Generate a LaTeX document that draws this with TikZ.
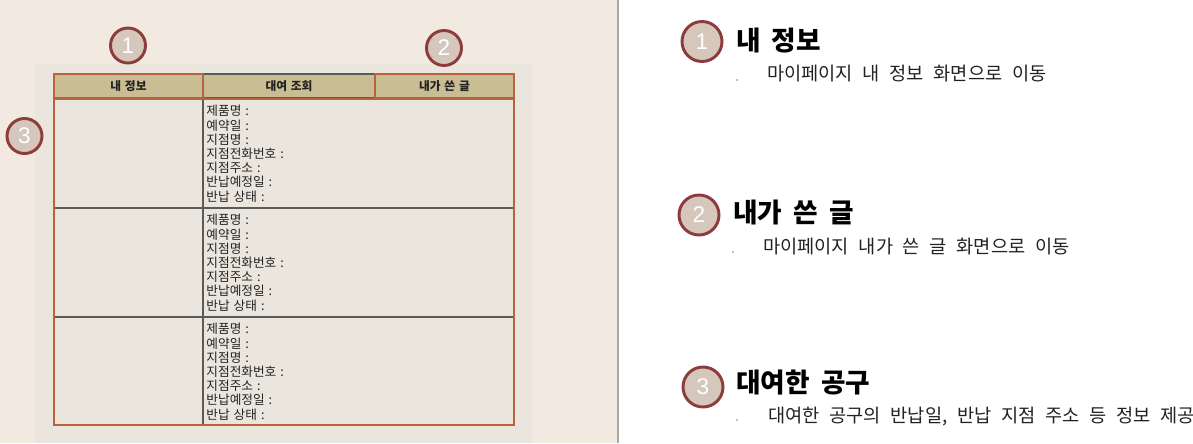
\documentclass[tikz,border=0pt]{standalone}
\usepackage{fontspec}
\newfontfamily\kr[WordSpace=2.2]{Noto Sans CJK KR}
\newfontfamily\krsub{Noto Sans CJK KR}
\newfontfamily\krtab[WordSpace=1.4]{Noto Sans CJK KR}
\newfontfamily\numfont{Liberation Sans}
\newcommand\tsp{\hspace{0.42em}}
\newcommand\ssp{\hspace{0.52em}}
\definecolor{bgL}{HTML}{F2E9E1}
\definecolor{panelc}{HTML}{EAE6DD}
\definecolor{hdrfill}{HTML}{C9BD93}
\definecolor{orangeb}{HTML}{B8623F}
\definecolor{darkl}{HTML}{5A5A5A}
\definecolor{sepc}{HTML}{A8A8A8}
\definecolor{circfill}{HTML}{D5C7BB}
\definecolor{circdraw}{HTML}{8E3B3B}
\definecolor{txt}{HTML}{222222}
\tikzset{
  hdrcell/.style={draw=#1, fill=hdrfill, line width=2pt, inner sep=0pt,
    minimum height=24*0.75pt, font=\kr\bfseries\fontsize{8.8pt}{10pt}\selectfont, text=txt},
  bodycell/.style={draw=darkl, fill=panelc, line width=1.2pt, inner sep=0pt, minimum height=109*0.75pt},
  bodyframe/.style={draw=orangeb, line width=2.2pt, inner sep=0pt},
  info/.style={anchor=north west, inner sep=0pt, align=left, text=txt,
    font=\krtab\fontsize{9.5pt}{10.65pt}\selectfont},
  numcirc/.style={circle, fill=circfill, draw=circdraw, line width=2.2pt, inner sep=0pt,
    minimum size=#1*0.75pt, text=white, font=\numfont\fontsize{17pt}{17pt}\selectfont},
  titletext/.style={anchor=west, inner sep=0pt, text=black, font=\krsub\bfseries\fontsize{20pt}{22pt}\selectfont},
  subtext/.style={anchor=west, inner sep=0pt, text=txt, font=\krsub\fontsize{14pt}{16pt}\selectfont},
  bulletdot/.style={circle, fill=gray, inner sep=0pt, minimum size=1.2pt}
}
\begin{document}
\begin{tikzpicture}[x=0.75pt,y=-0.75pt]
\useasboundingbox (0,0) rectangle (1193,443);
% backgrounds
\fill[bgL] (0,0) rectangle (618,443);
\fill[white] (618,0) rectangle (1193,443);
\draw[sepc, line width=1pt] (618,0) -- (618,443);
\fill[panelc] (35,64) rectangle (532,443);
% header
\node[hdrcell=darkl, minimum width=172*0.75pt] (h2) at (289,86) {대여 조회};
\node[hdrcell=orangeb, minimum width=149*0.75pt] (h1) at (128.5,86) {내 정보};
\node[hdrcell=orangeb, minimum width=139*0.75pt] (h3) at (444.5,86) {내가 쓴 글};
% body cells
\node[bodycell, minimum width=149*0.75pt] (l1) at (128.5,153.5) {};
\node[bodycell, minimum width=149*0.75pt] (l2) at (128.5,262.5) {};
\node[bodycell, minimum width=149*0.75pt, minimum height=108*0.75pt] (l3) at (128.5,371) {};
\node[bodycell, minimum width=311*0.75pt] (r1) at (358.5,153.5) {};
\node[bodycell, minimum width=311*0.75pt] (r2) at (358.5,262.5) {};
\node[bodycell, minimum width=311*0.75pt, minimum height=108*0.75pt] (r3) at (358.5,371) {};
\node[bodyframe, minimum width=460*0.75pt, minimum height=326*0.75pt] (frame) at (284,262) {};
% cell texts
\foreach \r/\n in {r1/t1, r2/t2, r3/t3}{
  \node[info] (\n) at ([xshift=4*0.75pt, yshift=-7*0.75pt]\r.north west)
    {제품명 :\\예약일 :\\지점명 :\\지점전화번호 :\\지점주소 :\\반납예정일 :\\반납 상태 :};
}
% small markers
\node[numcirc=35] (m1) at (128,45.5) {1};
\node[numcirc=35] (m2) at (444,48) {2};
\node[numcirc=35] (m3) at (24.5,136) {3};
% right side legend
\node[numcirc=40] (c1) at (702,41.5) {1};
\node[titletext] (ti1) at (736,40.5) {내\tsp 정보};
\node[bulletdot] (b1) at (737,80) {};
\node[subtext] (s1) at (767,74) {마이페이지\ssp 내\ssp 정보\ssp 화면으로\ssp 이동};

\node[numcirc=40] (c2) at (699,215) {2};
\node[titletext] (ti2) at (733,212.5) {내가\tsp 쓴\tsp 글};
\node[bulletdot] (b2) at (733,252) {};
\node[subtext] (s2) at (763,247) {마이페이지\ssp 내가\ssp 쓴\ssp 글\ssp 화면으로\ssp 이동};

\node[numcirc=40] (c3) at (703,387) {3};
\node[titletext] (ti3) at (736,382.5) {대여한\tsp 공구};
\node[bulletdot] (b3) at (737,420) {};
\node[subtext] (s3) at (768,417) {대여한\ssp 공구의\ssp 반납일,\ssp 반납\ssp 지점\ssp 주소\ssp 등\ssp 정보\ssp 제공};
\end{tikzpicture}
\end{document}
